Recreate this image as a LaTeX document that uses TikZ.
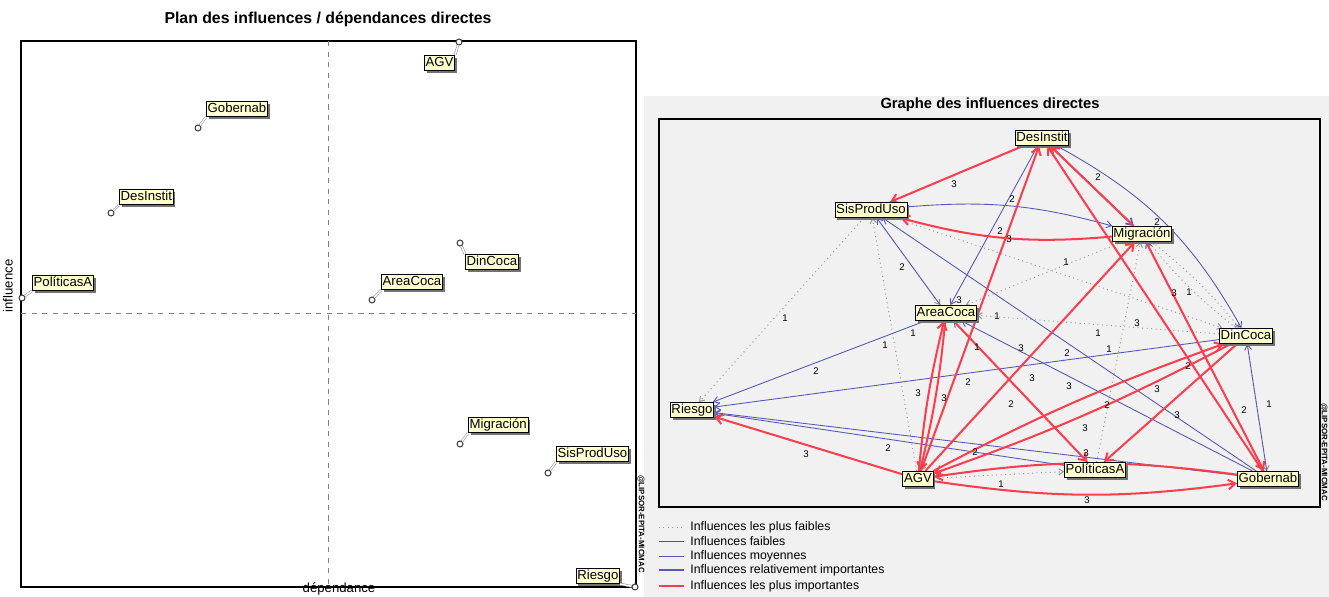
\documentclass[tikz,border=0pt]{standalone}
\usepackage{fontspec}
\setmainfont{Liberation Sans}
\usetikzlibrary{arrows.meta,shadows,backgrounds}

\definecolor{rouge}{RGB}{250,62,78}
\definecolor{bleu}{RGB}{88,88,178}
\definecolor{gris}{RGB}{150,150,150}
\definecolor{etiq}{RGB}{255,255,208}
\definecolor{fond}{RGB}{241,241,241}

\pgfdeclarelayer{edges}
\pgfsetlayers{background,edges,main}

\tikzset{
  var/.style={draw=black, line width=0.5pt, fill=etiq, inner sep=0.7pt,
    text height=5.6pt, text depth=1.6pt, font=\fontsize{7.5}{8}\selectfont,
    drop shadow={shadow xshift=1.3pt, shadow yshift=-1.3pt, fill=black!55, opacity=1}},
  pt/.style={circle, draw=black!75, fill=white, line width=0.6pt, inner sep=0pt, minimum size=3.4pt},
  leader/.style={draw=black!45, line width=0.3pt, double=white, double distance=0.8pt},
  axe/.style={draw=black!50, dashed, line width=0.4pt},
  titre/.style={font=\fontsize{9}{10}\selectfont\bfseries, inner sep=0pt},
  axelab/.style={font=\fontsize{7.5}{8}\selectfont, inner sep=0pt},
  marque/.style={font=\fontsize{4.5}{5}\selectfont\bfseries, inner sep=0pt},
  poids/.style={font=\fontsize{5.5}{6}\selectfont, inner sep=0pt},
  legtext/.style={font=\fontsize{7}{8}\selectfont, anchor=west, inner sep=0pt},
  faible/.style={draw=gris, dotted, line width=0.55pt, -{Straight Barb[length=2.5pt,width=3.5pt]}},
  faibleplus/.style={draw=black!65, line width=0.45pt},
  moyen/.style={draw=bleu, line width=0.5pt, -{Straight Barb[length=3pt,width=4pt]}},
  relatif/.style={draw=bleu, line width=0.95pt, -{Straight Barb[length=3.5pt,width=4.5pt]}},
  fort/.style={draw=rouge, line width=1.15pt, -{Straight Barb[length=4pt,width=5.5pt]}},
}

\begin{document}
\begin{tikzpicture}[x=0.02cm, y=-0.02cm]
  \useasboundingbox (0,0) rectangle (1329,597);

  % plan des influences / dependances
  \node[titre] (titreplan) at (328,19) {Plan des influences / dépendances directes};
  \draw[line width=0.6pt] (21,41) rectangle (636,587);
  \draw[axe] (328,41) -- (328,587);
  \draw[axe] (21,313) -- (636,313);
  \node[axelab, rotate=90] (infl) at (8,286) {influence};
  \node[axelab, anchor=south] (dep) at (339,596) {dépendance};
  \node[marque, rotate=-90] (marqueplan) at (641,524) {@LIPSOR-EPITA-MICMAC};

  \node[pt] (pAGV) at (459,42) {};
  \node[var, anchor=north east] (tAGV) at (455,55) {AGV};
  \node[pt] (pGob) at (198,128) {};
  \node[var, anchor=south west] (tGob) at (206,117) {Gobernab};
  \node[pt] (pDes) at (111,213) {};
  \node[var, anchor=south west] (tDes) at (119,205) {DesInstit};
  \node[pt] (pPol) at (22,298) {};
  \node[var, anchor=south west] (tPol) at (32,291) {PolíticasA};
  \node[pt] (pArea) at (372,300) {};
  \node[var, anchor=south west] (tArea) at (381,290) {AreaCoca};
  \node[pt] (pDin) at (460,243) {};
  \node[var, anchor=north west] (tDin) at (465,254) {DinCoca};
  \node[pt] (pMig) at (460,444) {};
  \node[var, anchor=south west] (tMig) at (468,433) {Migración};
  \node[pt] (pSis) at (548,473) {};
  \node[var, anchor=south west] (tSis) at (556,462) {SisProdUso};
  \node[pt] (pRies) at (635,587) {};
  \node[var, anchor=south east] (tRies) at (620,584) {Riesgo};

  \draw[leader] (pAGV) -- (tAGV.north east);
  \draw[leader] (pGob) -- (tGob.south west);
  \draw[leader] (pDes) -- (tDes.south west);
  \draw[leader] (pPol) -- (tPol.south west);
  \draw[leader] (pArea) -- (tArea.south west);
  \draw[leader] (pDin) -- (tDin.north west);
  \draw[leader] (pMig) -- (tMig.south west);
  \draw[leader] (pSis) -- (tSis.south west);
  \draw[leader] (pRies) -- (tRies.south east);

  % graphe des influences directes
  \begin{pgfonlayer}{background}
    \fill[fond] (644,96) rectangle (1329,597);
    \draw[line width=0.6pt] (659,119) rectangle (1320,507);
  \end{pgfonlayer}
  \node[titre, font=\fontsize{8.4}{9}\selectfont\bfseries] (titregraphe) at (990,105) {Graphe des influences directes};
  \node[marque, rotate=-90] (marquegraphe) at (1324,452) {@LIPSOR-EPITA-MICMAC};

  \node[var] (rDes) at (1042,138) {DesInstit};
  \node[var] (rSis) at (871,210) {SisProdUso};
  \node[var] (rMig) at (1142,234) {Migración};
  \node[var] (rArea) at (946,313) {AreaCoca};
  \node[var] (rDin) at (1246,336) {DinCoca};
  \node[var] (rRies) at (692,410) {Riesgo};
  \node[var] (rAGV) at (918,479) {AGV};
  \node[var] (rPol) at (1095,470) {PolíticasA};
  \node[var] (rGob) at (1268,479) {Gobernab};

  \begin{pgfonlayer}{edges}
    % les plus faibles
    \draw[faible] (rSis) -- (rRies);
    \draw[faible] (rAGV) -- (rSis);
    \draw[faible] (rSis) -- (rDin);
    \draw[faible] (rSis) -- (rArea);
    \draw[faible] (rDin) -- (rArea);
    \draw[faible] (rDes) -- (rAGV);
    \draw[faible] (rMig) -- (rArea);
    \draw[faible] (rPol) -- (rMig);
    \draw[faible] (rDin) to[bend left=6] (rMig);
    \draw[faible] (rMig) to[bend left=6] (rDin);
    \draw[faible] (rGob) -- (rMig);
    \draw[faible] (rAGV) -- (rPol);
    \draw[faible] (rDin) -- (rGob);
    % moyennes
    \draw[moyen] (rSis) to[bend left=10] (rMig);
    \draw[moyen] (rDes) to[bend left=16] (rDin);
    \draw[moyen] (rDes) -- (rArea);
    \draw[moyen] (rArea) -- (rSis);
    \draw[moyen] (rGob) -- (rSis);
    \draw[moyen] (rArea) -- (rRies);
    \draw[moyen] (rDin) -- (rRies);
    \draw[moyen] (rGob) -- (rRies);
    \draw[moyen] (rPol) -- (rRies);
    \draw[moyen] (rPol) -- (rArea);
    \draw[moyen] (rGob) -- (rArea);
    \draw[moyen] (rGob) -- (rMig);
    \draw[moyen] (rGob) -- (rDin);
    \draw[relatif] (rDes) -- (rMig);
    % les plus importantes
    \draw[fort] (rDes) -- (rSis);
    \draw[fort] (rMig) to[bend left=10] (rSis);
    \draw[fort] (rAGV) -- (rDes);
    \draw[fort] (rMig) -- (rDes);
    \draw[fort] (rGob) -- (rDes);
    \draw[fort] (rMig) -- (rGob);
    \draw[fort] (rAGV) -- (rMig);
    \draw[fort] (rArea) to[bend left=4] (rAGV);
    \draw[fort] (rAGV) to[bend left=4] (rArea);
    \draw[fort] (rArea) -- (rPol);
    \draw[fort] (rDin) to[bend left=4] (rAGV);
    \draw[fort] (rAGV) to[bend left=4] (rDin);
    \draw[fort] (rDin) -- (rPol);
    \draw[fort] (rGob) to[bend right=8] (rAGV);
    \draw[fort] (rAGV) to[bend right=8] (rGob);
    \draw[fort] (rAGV) -- (rRies);
  \end{pgfonlayer}

  % poids des influences
  \foreach \x/\y/\t [count=\i] in {954/184/3, 1098/177/2, 1012/199/2, 1000/231/2, 1009/239/3,
      1157/222/2, 902/267/2, 1066/262/1, 1174/293/3, 1189/292/1, 959/300/3, 785/318/1,
      997/316/1, 1137/323/3, 913/333/1, 1098/333/1, 885/345/1, 977/347/1, 1021/348/3,
      1109/349/1, 1067/353/2, 1188/366/2, 816/371/2, 968/382/2, 1032/378/3, 1069/386/3,
      1157/389/3, 918/393/3, 944/398/3, 1011/404/2, 1107/405/2, 1244/410/2, 1269/404/1,
      1177/415/3, 1085/428/3, 888/448/2, 975/452/2, 1086/453/3, 806/454/3, 1001/484/1,
      1087/500/3}
    \node[poids] (w\i) at (\x,\y) {\t};

  % legende
  \foreach \s/\yy/\t [count=\i] in {faible/527/Influences les plus faibles,
      faibleplus/541/Influences faibles, moyen/556/Influences moyennes,
      relatif/570/Influences relativement importantes, fort/586/Influences les plus importantes} {
    \coordinate (la\i) at (659,\yy);
    \coordinate (lb\i) at (684,\yy);
    \draw[\s, -] (la\i) -- (lb\i);
    \node[legtext] (lt\i) at (690,\yy) {\t};
  }
\end{tikzpicture}
\end{document}
